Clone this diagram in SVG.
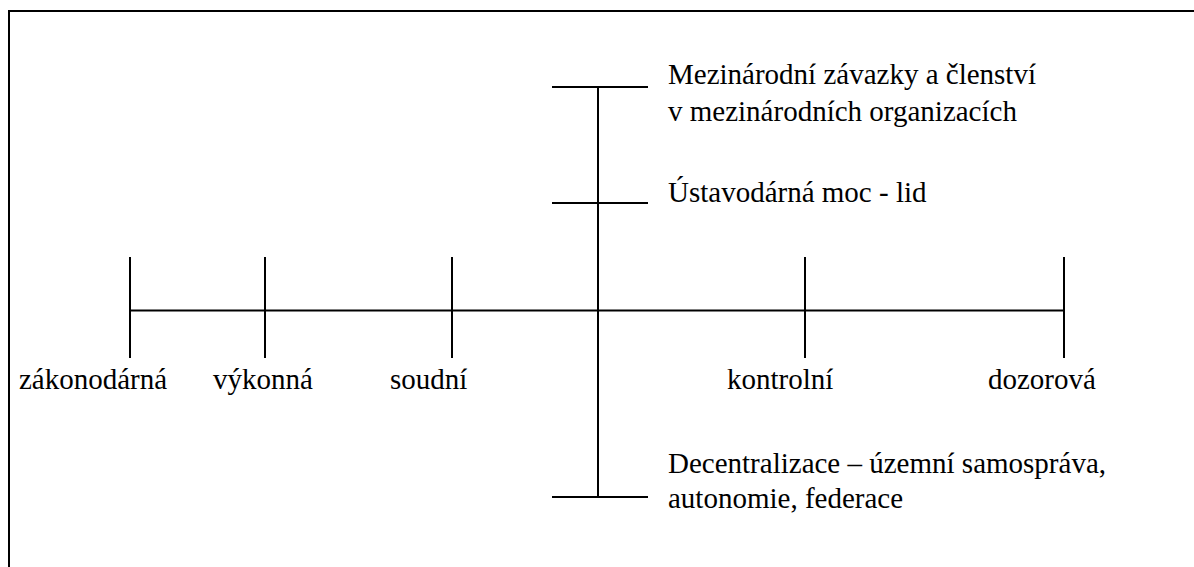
<svg xmlns="http://www.w3.org/2000/svg" width="1194" height="567" viewBox="0 0 1194 567">
<style>
.ln{stroke:#000;stroke-width:2;fill:none}
.t{font-family:'Liberation Serif',serif;font-size:29px;fill:#000}
</style>
<rect x="0" y="0" width="1194" height="567" fill="#fff"/>
<rect x="9" y="11" width="1200" height="600" class="ln"/>
<g id="connectors">
<line class="ln" x1="130" y1="310.5" x2="1064" y2="310.5"/>
<line class="ln" x1="598" y1="87" x2="598" y2="497"/>
</g>
<g font-family="Liberation Serif, serif" font-size="29">
<g id="zakonodarna"><line class="ln" x1="130" y1="257" x2="130" y2="358"/><text class="t" x="19" y="389">zákonodárná</text></g>
<g id="vykonna"><line class="ln" x1="265" y1="257" x2="265" y2="358"/><text class="t" x="213" y="389">výkonná</text></g>
<g id="soudni"><line class="ln" x1="452" y1="257" x2="452" y2="358"/><text class="t" x="390" y="389">soudní</text></g>
<g id="kontrolni"><line class="ln" x1="805" y1="257" x2="805" y2="358"/><text class="t" x="727" y="389">kontrolní</text></g>
<g id="dozorova"><line class="ln" x1="1064" y1="257" x2="1064" y2="358"/><text class="t" x="988" y="389">dozorová</text></g>
<g id="mezinarodni"><line class="ln" x1="552" y1="87" x2="648" y2="87"/><text class="t" x="668" y="84">Mezinárodní závazky a členství</text><text class="t" x="668" y="121">v mezinárodních organizacích</text></g>
<g id="ustavodarna"><line class="ln" x1="552" y1="203" x2="648" y2="203"/><text class="t" x="668" y="202">Ústavodárná moc - lid</text></g>
<g id="decentralizace"><line class="ln" x1="552" y1="497" x2="648" y2="497"/><text class="t" x="668" y="473">Decentralizace – územní samospráva,</text><text class="t" x="668" y="508">autonomie, federace</text></g>
</g>
</svg>
